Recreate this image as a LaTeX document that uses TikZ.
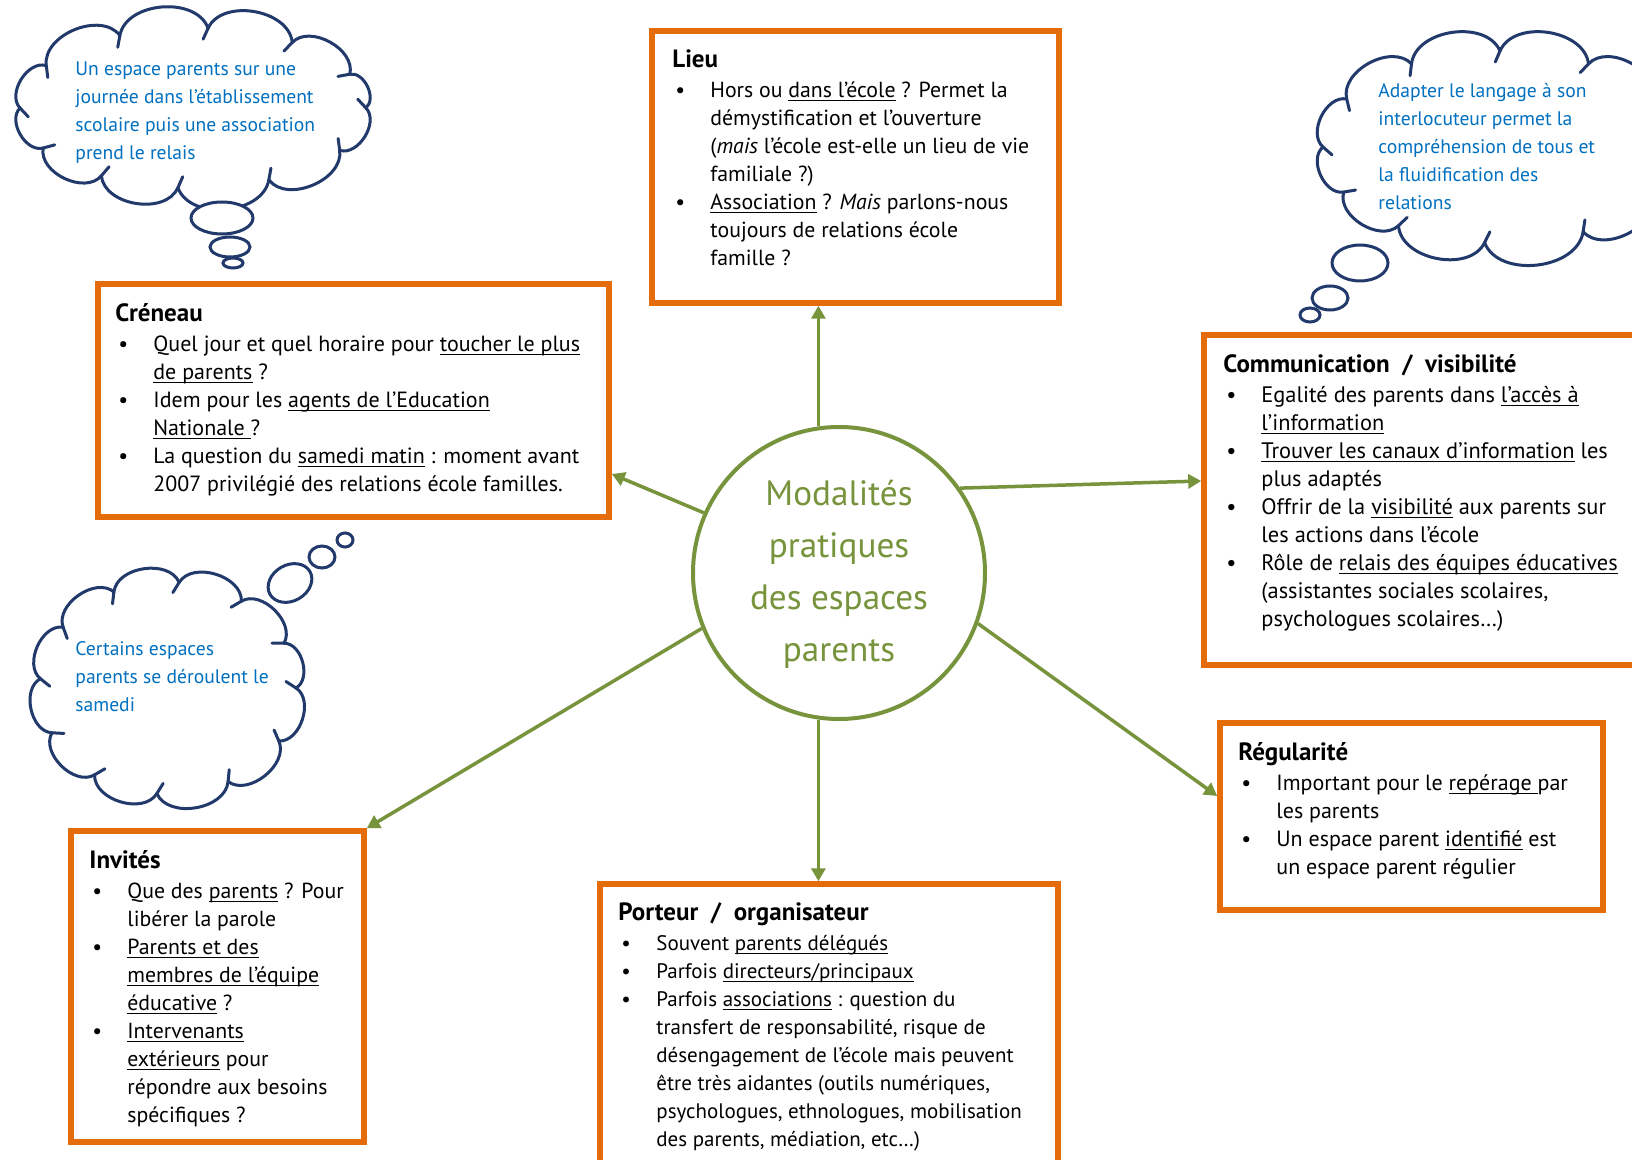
\documentclass[tikz,border=0pt]{standalone}
\usepackage{fontspec}
\setmainfont{PT Sans}
\usetikzlibrary{arrows.meta,shapes.geometric,calc}
\definecolor{orng}{HTML}{E46C0A}
\definecolor{olive}{HTML}{77933C}
\definecolor{navy}{HTML}{223A6B}
\definecolor{blu}{HTML}{0070C0}
\newlength{\bind}
\setlength{\bind}{19pt}
\newsavebox{\ubox}
\newcommand{\undl}[1]{\sbox{\ubox}{#1}\rlap{\rule[-2pt]{\wd\ubox}{0.6pt}}\usebox{\ubox}}
\newcommand{\bul}{\makebox[\bind][l]{\hspace{1.5pt}\textbullet}}
\newcommand{\cnt}{\hspace*{\bind}}
\newcommand{\fl}{\rule{0pt}{10pt}}
\newcommand{\ttl}[1]{{\fontsize{12.5}{14}\selectfont\bfseries #1}}
\newcommand{\drawcloud}[4]{%
  \foreach \a/\b in {#4} {
    \path ($#1+(\a:#2 and #3)$) coordinate (pa) ($#1+(\b:#2 and #3)$) coordinate (pb);
    \draw[cloudl] (pa) to[bend left=75] (pb);
    \draw[cloudl] (pa) -- ($(pa)!6pt!-105:(pb)$);
  }}
\tikzset{
  obox/.style={draw=orng, line width=2.75pt, fill=white, inner sep=0pt},
  txt/.style={anchor=north west, inner sep=0pt, align=left, font=\fontsize{10.9}{14}\selectfont},
  ctxt/.style={anchor=north west, inner sep=0pt, align=left, text=blu, font=\fontsize{9.8}{14}\selectfont},
  arr/.style={draw=olive, line width=1.75pt, -{Triangle[length=6.5pt,width=7pt]}},
  cloudl/.style={draw=navy, line width=1.5pt, line cap=round},
  bub/.style={draw=navy, line width=1.5pt, fill=white}
}
\begin{document}
\begin{tikzpicture}[x=0.5pt,y=-0.5pt]
\useasboundingbox (0,0) rectangle (1632,1160);
\clip (0,0) rectangle (1632,1160);
\fill[white] (0,0) rectangle (1632,1160);

% clouds
\drawcloud{(193,108)}{173}{80}{0/32,32/64,64/95,95/122,122/150,150/180,180/212,212/245,245/275,275/305,305/335,335/360}
\draw[bub] (222,218) ellipse [x radius=31, y radius=16];
\draw[bub] (230,247) ellipse [x radius=20, y radius=10];
\draw[bub] (233,263) ellipse [x radius=10, y radius=5];

\drawcloud{(1500,147)}{177}{96}{0/30,30/62,62/95,95/125,125/152,152/180,180/210,210/240,240/270,270/300,300/330,330/360}
\draw[bub] (1360,263) ellipse [x radius=28, y radius=18];
\draw[bub] (1330,298) ellipse [x radius=18, y radius=12];
\draw[bub] (1310,315) ellipse [x radius=10, y radius=7];

\drawcloud{(168,688)}{128}{106}{0/30,30/62,62/95,95/125,125/155,155/185,185/215,215/245,245/275,275/305,305/335,335/360}
\draw[bub, rotate around={30:(290,583)}] (290,583) ellipse [x radius=23, y radius=18];
\draw[bub] (322,557) ellipse [x radius=13, y radius=11];
\draw[bub] (345,540) ellipse [x radius=8, y radius=7];

\node[ctxt] (c1t) at (75,55) {\fl Un espace parents sur une\\journée dans l’établissement\\scolaire puis une association\\prend le relais};
\node[ctxt] (c2t) at (1378,77) {\fl Adapter le langage à son\\interlocuteur permet la\\compréhension de tous et\\la fluidification des\\relations};
\node[ctxt] (c3t) at (75,635) {\fl Certains espaces\\parents se déroulent le\\samedi};

% boxes
\node[obox, minimum width=203.5pt, minimum height=136pt] (lieu) at (855.5,167) {};
\node[obox, minimum width=255.5pt, minimum height=116.5pt] (creneau) at (353.5,400.5) {};
\node[obox, minimum width=220.5pt, minimum height=165pt] (comm) at (1424.5,500) {};
\node[obox, minimum width=191.5pt, minimum height=93.5pt] (reg) at (1411.5,816.5) {};
\node[obox, minimum width=146.5pt, minimum height=155.5pt] (invites) at (217.5,986.5) {};
\node[obox, minimum width=229pt, minimum height=145.5pt] (porteur) at (829,1029.5) {};

\node[txt] (lieu-t) at (672,47) {\fl\ttl{Lieu}\\[1pt]
\bul Hors ou \undl{dans l’école} ? Permet la\\
\cnt démystification et l’ouverture\\
\cnt (\emph{mais} l’école est-elle un lieu de vie\\
\cnt familiale ?)\\
\bul \undl{Association} ? \emph{Mais} parlons-nous\\
\cnt toujours de relations école\\
\cnt famille ?};

\node[txt, font=\fontsize{11}{14}\selectfont] (creneau-t) at (115,301) {\fl\ttl{Créneau}\\[1pt]
\bul Quel jour et quel horaire pour \undl{toucher le plus}\\
\cnt \undl{de parents} ?\\
\bul Idem pour les \undl{agents de l’Education}\\
\cnt \undl{Nationale\ }?\\
\bul La question du \undl{samedi matin} : moment avant\\
\cnt 2007 privilégié des relations école familles.};

\node[txt, font=\fontsize{11.2}{14}\selectfont] (comm-t) at (1223,352) {\fl\ttl{Communication \ / \ visibilité}\\[1pt]
\bul Egalité des parents dans \undl{l’accès à}\\
\cnt \undl{l’information}\\
\bul \undl{Trouver les canaux d’information} les\\
\cnt plus adaptés\\
\bul Offrir de la \undl{visibilité} aux parents sur\\
\cnt les actions dans l’école\\
\bul Rôle de \undl{relais des équipes éducatives}\\
\cnt (assistantes sociales scolaires,\\
\cnt psychologues scolaires…)};

\node[txt, font=\fontsize{11}{14}\selectfont] (reg-t) at (1238,740) {\fl\ttl{Régularité}\\[1pt]
\bul Important pour le \undl{repérage\ }par\\
\cnt les parents\\
\bul Un espace parent \undl{identifié} est\\
\cnt un espace parent régulier};

\node[txt] (invites-t) at (89,848) {\fl\ttl{Invités}\\[1pt]
\bul Que des \undl{parents} ? Pour\\
\cnt libérer la parole\\
\bul \undl{Parents et des}\\
\cnt \undl{membres de l’équipe}\\
\cnt \undl{éducative} ?\\
\bul \undl{Intervenants}\\
\cnt \undl{extérieurs} pour\\
\cnt répondre aux besoins\\
\cnt spécifiques ?};

\node[txt, font=\fontsize{10.5}{14}\selectfont] (porteur-t) at (618,900) {\fl\ttl{Porteur \ / \ organisateur}\\[1pt]
\bul Souvent \undl{parents délégués}\\
\bul Parfois \undl{directeurs/principaux}\\
\bul Parfois \undl{associations} : question du\\
\cnt transfert de responsabilité, risque de\\
\cnt désengagement de l’école mais peuvent\\
\cnt être très aidantes (outils numériques,\\
\cnt psychologues, ethnologues, mobilisation\\
\cnt des parents, médiation, etc…)};

% centre
\node[circle, draw=olive, line width=2pt, minimum size=146pt, inner sep=0pt] (circ) at (839,573) {};
\node[anchor=north, inner sep=0pt, align=center, text=olive, font=\fontsize{17.6}{26}\selectfont] (circ-t) at (839,477) {\rule{0pt}{14pt}Modalités\\pratiques\\des espaces\\parents};

% connectors
\draw[arr] (circ.98.6) -- (circ.98.6 |- lieu.south);
\draw[arr] (circ.156.5) -- (creneau.east |- 0,474);
\draw[arr] (circ.35.2) -- (comm.west |- 0,481);
\draw[arr] (circ.-20.4) -- (reg.west |- 0,796);
\draw[arr] (circ.-98) -- (circ.-98 |- porteur.north);
\draw[arr] (circ.202.4) -- (invites.north east);
\end{tikzpicture}
\end{document}
